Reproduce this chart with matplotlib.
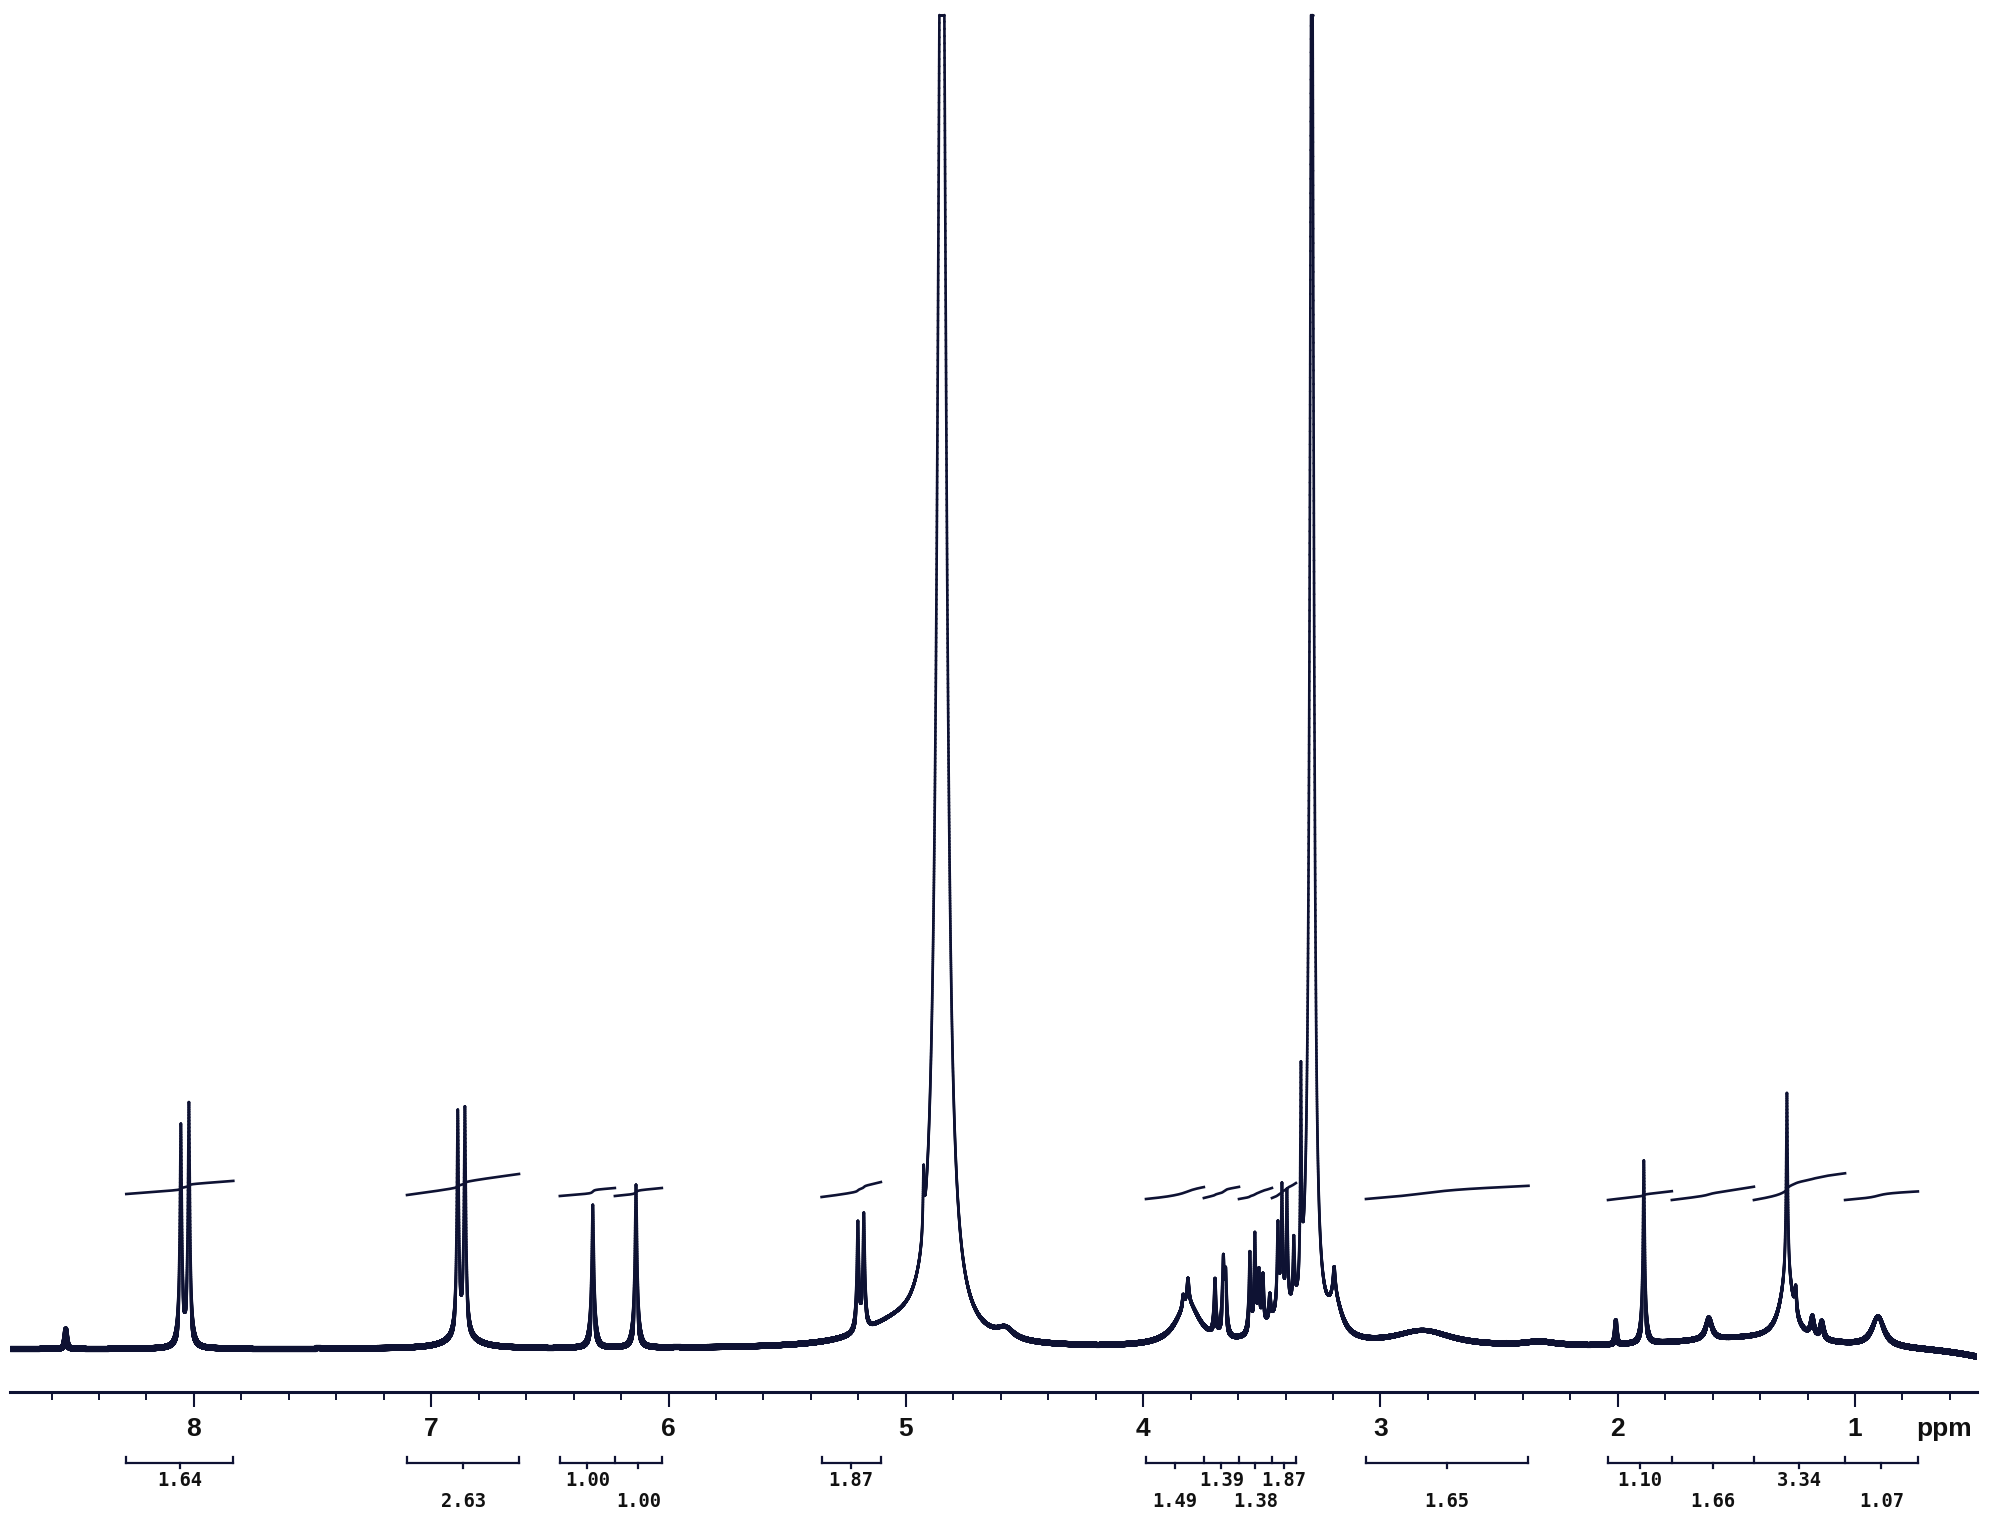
import numpy as np
import matplotlib.pyplot as plt
from matplotlib.collections import LineCollection
from matplotlib.ticker import MultipleLocator

# peak table: shift (ppm), height (plot units above baseline), half width (ppm)
peak_ppm = [8.54, 8.055, 8.021, 6.888, 6.858, 6.87, 6.319, 6.137, 5.202, 5.177,
            4.848, 5.05, 4.925, 4.58,
            3.811, 3.831, 3.811, 3.697, 3.662, 3.652, 3.42, 3.550, 3.529, 3.512,
            3.495, 3.466, 3.432, 3.415, 3.394, 3.365, 3.335, 3.289, 3.195, 3.19,
            2.82, 2.33, 2.008, 1.890, 1.616, 1.45, 1.287, 1.287, 1.250, 1.18,
            1.14, 0.903, 0.35]
peak_height = [20, 220, 242, 222, 225, 12, 143, 163, 108, 114,
               1670, 18, 60, 10,
               42, 12, 25, 55, 75, 55, 25, 80, 95, 55,
               50, 25, 85, 120, 115, 65, 210, 1500, 30, 32,
               16, 4, 24, 183, 22, 10, 187, 60, 25, 20,
               18, 30, -14]
peak_hwhm = [0.004, 0.005, 0.005, 0.0048, 0.0048, 0.07, 0.0055, 0.0055, 0.0048, 0.0048,
             0.0206, 0.17, 0.003, 0.04,
             0.06, 0.004, 0.005, 0.004, 0.005, 0.004, 0.08, 0.004, 0.004, 0.004,
             0.004, 0.004, 0.004, 0.004, 0.004, 0.004, 0.003, 0.0093, 0.006, 0.035,
             0.15, 0.08, 0.003, 0.0045, 0.015, 0.4, 0.004, 0.035, 0.004, 0.008,
             0.008, 0.03, 0.2]

# integration brackets: region edges (ppm), values, label row, trace start level, trace drift
integral_edges = [[8.285, 7.834], [7.102, 6.630], [6.458, 6.226, 6.028], [5.355, 5.105],
                  [3.988, 3.744, 3.596, 3.457, 3.356], [3.061, 2.376],
                  [2.041, 1.772, 1.426, 1.042, 0.735]]
integral_values = [[1.64], [2.63], [1.00, 1.00], [1.87], [1.49, 1.39, 1.38, 1.87], [1.65],
                   [1.10, 1.66, 3.34, 1.07]]
label_rows = [[1], [2], [1, 2], [1], [2, 1, 2, 1], [2], [1, 2, 1, 2]]
trace_start = [[155], [154], [153, 153], [152], [150, 151, 150, 151], [150],
               [149, 149, 149, 149]]
trace_drift = [[0.6], [0.7], [0.5, 0.5], [0.3], [0.3, 0.3, 0.3, 0.3], [0.2],
               [0.7, 0.4, 0.3, 0.4]]

major_ticks = [1, 2, 3, 4, 5, 6, 7, 8]

ink = '#0e1233'
x_left, x_right = 8.775, 0.486
y_bottom, y_top = -43, 1337
clip_level = 1334
rise_per_unit = 8.0

ppm = np.linspace(x_left, x_right, 60000)
spec = np.zeros_like(ppm)
for p, h, g in zip(peak_ppm, peak_height, peak_hwhm):
    spec += h * g**2 / ((ppm - p)**2 + g**2)

fig = plt.figure(figsize=(20, 15.36), dpi=100)
ax = fig.add_axes([0.005, 0.09375, 0.9835, 0.8984])
ax.set_xlim(x_left, x_right)
ax.set_ylim(y_bottom, y_top)

# spectrum: pen is heavier near the baseline (the noisy band of the scan) and thin up the peaks
yc = np.minimum(spec, clip_level)
pts = np.column_stack([ppm, yc]).reshape(-1, 1, 2)
segs = np.concatenate([pts[:-1], pts[1:]], axis=1)
hmid = np.clip(0.5 * (yc[:-1] + yc[1:]), 0, None)
widths = 1.9 + 2.6 / (1 + (hmid / 25.0) ** 2)
ax.add_collection(LineCollection(segs, colors=ink, linewidths=widths, capstyle='round'))

# integral traces
for edges, vals, starts, drifts in zip(integral_edges, integral_values, trace_start, trace_drift):
    for i, v in enumerate(vals):
        hi, lo = edges[i], edges[i + 1]
        m = (ppm <= hi) & (ppm >= lo)
        xs = ppm[m]
        cum = np.cumsum(np.clip(spec[m], 0, None))
        cum = cum / cum[-1]
        lin = np.linspace(0, 1, len(xs))
        d = drifts[i]
        ys = starts[i] + rise_per_unit * v * ((1 - d) * cum + d * lin)
        ax.plot(xs, ys, color=ink, lw=1.9)

# axis
for s in ['top', 'left', 'right']:
    ax.spines[s].set_visible(False)
ax.spines['bottom'].set_linewidth(2.2)
ax.spines['bottom'].set_color(ink)
ax.set_yticks([])
ax.set_xticks(major_ticks)
ax.xaxis.set_minor_locator(MultipleLocator(0.2))
ax.tick_params(axis='x', which='major', length=11, width=1.5, color=ink, labelbottom=False)
ax.tick_params(axis='x', which='minor', length=6, width=1.4, color=ink)

label_font = ['Liberation Sans Narrow', 'Liberation Sans', 'DejaVu Sans']
for t in major_ticks:
    ax.text(t, -87, str(t), ha='center', va='baseline', fontsize=19, fontweight='bold',
            family=label_font, color='#111111', clip_on=False)
ax.text(0.625, -87, 'ppm', ha='center', va='baseline', fontsize=19, fontweight='bold',
        family=label_font, color='#111111', clip_on=False)

# integration brackets and values
yb = -114
row_y = {1: -132, 2: -153}
for edges, vals, rows in zip(integral_edges, integral_values, label_rows):
    ax.plot([edges[0], edges[-1]], [yb, yb], color=ink, lw=1.6, clip_on=False)
    for e in edges:
        ax.plot([e, e], [yb, yb + 6], color=ink, lw=1.6, clip_on=False)
    for i, v in enumerate(vals):
        c = (edges[i] + edges[i + 1]) / 2
        ax.plot([c, c], [yb, yb - 5], color=ink, lw=1.6, clip_on=False)
        ax.text(c, row_y[rows[i]], '%.2f' % v, ha='center', va='center', fontsize=13.5,
                fontweight='bold', family='DejaVu Sans Mono', color='#111111', clip_on=False)

fig.savefig('out.png', dpi=100)
